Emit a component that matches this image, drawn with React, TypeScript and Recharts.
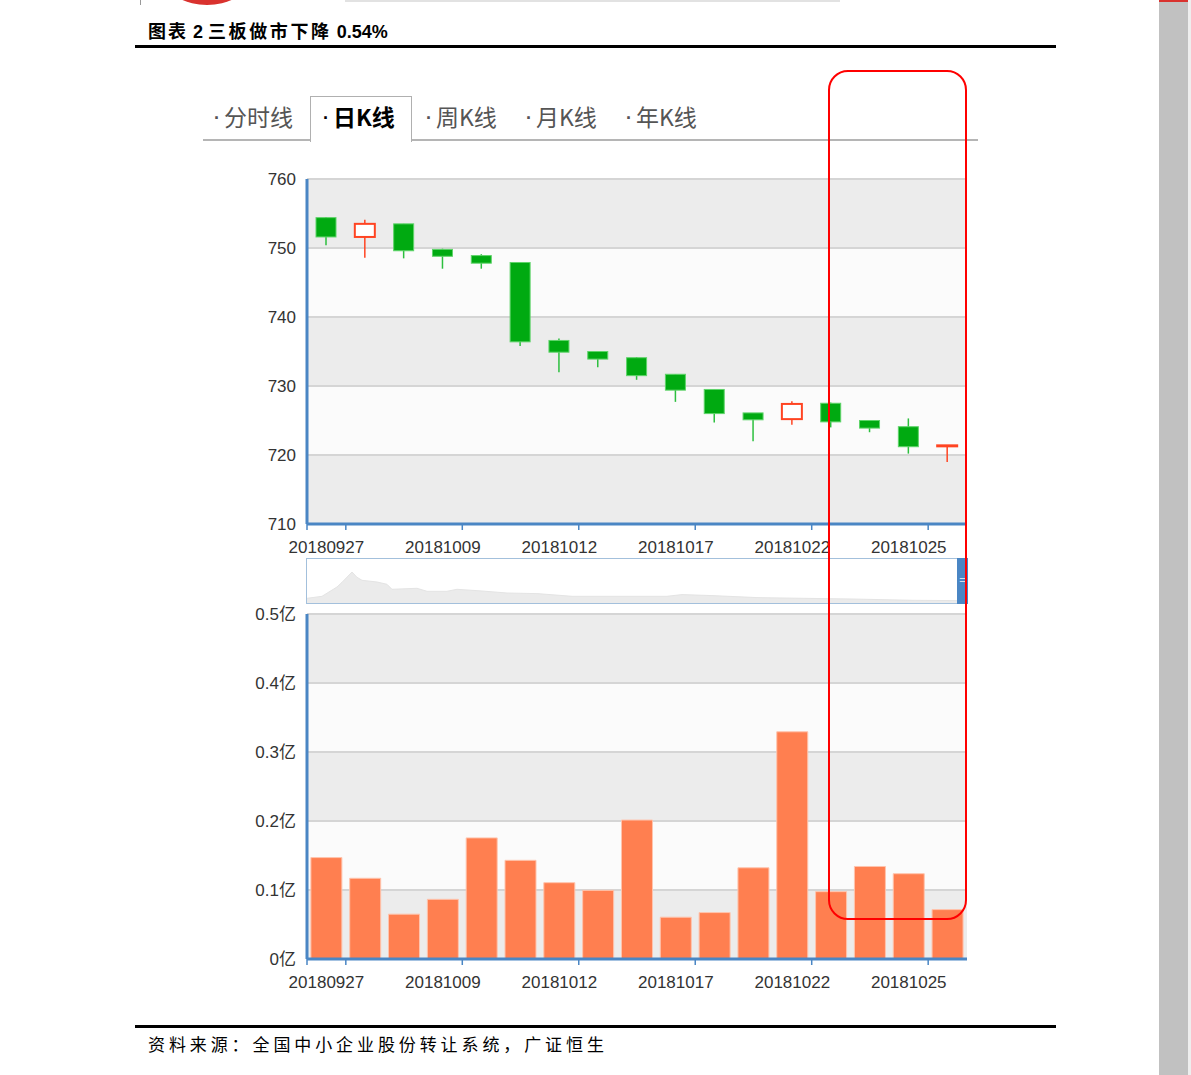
import React from 'react'
import {
  ComposedChart,
  BarChart,
  AreaChart,
  Bar,
  Area,
  XAxis,
  YAxis,
  CartesianGrid,
} from 'recharts'

const dates = [
  '20180927', '20180928', '20181008', '20181009', '20181010', '20181011', '20181012', '20181015', '20181016',
  '20181017', '20181018', '20181019', '20181022', '20181023', '20181024', '20181025', '20181026',
]
const opens = [754.4, 751.6, 753.5, 749.8, 748.9, 747.9, 736.6, 735.0, 734.1, 731.7, 729.5, 726.1, 725.2, 727.5, 725.0, 724.1, 721.3]
const closes = [751.6, 753.5, 749.6, 748.8, 747.8, 736.4, 734.9, 733.9, 731.5, 729.4, 726.0, 725.1, 727.4, 724.8, 723.9, 721.2, 721.4]
const highs = [754.5, 754.1, 753.5, 749.9, 749.1, 747.9, 736.9, 735.0, 734.2, 731.7, 729.5, 726.1, 727.8, 727.6, 725.0, 725.3, 721.4]
const lows = [750.4, 748.6, 748.5, 747.0, 747.0, 735.8, 732.0, 732.7, 730.9, 727.7, 724.7, 722.0, 724.4, 724.0, 723.3, 720.2, 719.0]
// 成交额（亿）
const volumes = [0.147, 0.117, 0.065, 0.0865, 0.1755, 0.143, 0.1106, 0.0995, 0.2014, 0.0606, 0.0673, 0.1322, 0.3293, 0.0976, 0.1341, 0.1236, 0.0716]

const priceTicks = [710, 720, 730, 740, 750, 760]
const volumeTicks = [0, 0.1, 0.2, 0.3, 0.4, 0.5]

// 缩略轴预览
const previewDays = [0, 3, 6, 7, 9, 10, 11, 14, 16, 17, 22, 24, 28, 30, 35, 40, 46, 53, 63, 72, 75, 81, 90, 99, 109, 121, 130]
const previewValues = [4.7, 6.7, 16, 20.7, 31, 25.7, 22.7, 21, 18.7, 13.7, 14.7, 11.7, 11.7, 13.7, 12, 10, 9.4, 6.7, 6.7, 6.7, 8.4, 7.4, 5.4, 4.7, 4, 2.7, 2.4]

const tabs = ['分时线', '日K线', '周K线', '月K线', '年K线']

const klineData = dates.map((d, i) => ({
  date: d,
  open: opens[i],
  close: closes[i],
  high: highs[i],
  low: lows[i],
  vol: volumes[i],
}))
const previewData = previewDays.map((t, i) => ({ t, v: previewValues[i] }))

const AXIS = '#4a86c4'
const GREEN = '#00aa11'
const RED = '#ff4422'
const FONT = '"Liberation Sans", Arial, "Noto Sans CJK SC", sans-serif'
const PLOT_W = 660
const BAND = PLOT_W / dates.length

const Candle = (props: any) => {
  const { x, y, width, height, payload } = props
  const top = Math.min(y, y + height)
  const h = Math.abs(height)
  const ppu = h / (payload.high - payload.low)
  const up = payload.close >= payload.open
  const bTop = top + (payload.high - Math.max(payload.open, payload.close)) * ppu
  const bBot = top + (payload.high - Math.min(payload.open, payload.close)) * ppu
  const cx = x + width / 2
  return (
    <g>
      <line x1={cx} x2={cx} y1={top} y2={top + h} stroke={up ? RED : '#2cbf3e'} strokeWidth={1.5} />
      <rect
        x={x}
        y={bTop}
        width={width}
        height={Math.max(bBot - bTop, 1)}
        fill={up ? '#fff' : GREEN}
        stroke={up ? RED : '#5fd46a'}
        strokeWidth={up ? 2 : 1}
      />
    </g>
  )
}

const DateTick = (props: any) => {
  const { x, y, payload } = props
  const half = BAND / 2
  return (
    <g>
      <line x1={x + half} x2={x + half} y1={y - 8} y2={y - 2} stroke={AXIS} strokeWidth={1.5} />
      {payload.index === 0 && (
        <line x1={x - half} x2={x - half} y1={y - 8} y2={y - 2} stroke={AXIS} strokeWidth={1.5} />
      )}
      <text x={x} y={y + 15} textAnchor="middle" dominantBaseline="central" fontSize={17} fill="#333" fontFamily={FONT}>
        {payload.value}
      </text>
    </g>
  )
}

const yTick = { fontSize: 17, fill: '#333', fontFamily: FONT }

export default function App() {
  return (
    <div style={{ position: 'absolute', left: 0, top: 0, width: 1191, height: 1075, background: '#fff', overflow: 'hidden', fontFamily: FONT }}>
      {/* 页眉残影 */}
      <div style={{ position: 'absolute', left: 168, top: -40, width: 78, height: 45, borderRadius: '50%', background: '#d9322e' }} />
      <div style={{ position: 'absolute', left: 140, top: 0, width: 1, height: 5, background: '#999' }} />
      <div style={{ position: 'absolute', left: 345, top: 0, width: 495, height: 2, background: '#e2e2e2' }} />

      {/* 标题 */}
      <div style={{ position: 'absolute', left: 148, top: 17, fontSize: 18, fontWeight: 700, color: '#000', whiteSpace: 'nowrap', fontFamily: '"Noto Sans CJK SC", sans-serif' }}>
        <span style={{ letterSpacing: 2 }}>图表</span>
        <span style={{ fontFamily: '"Liberation Sans", sans-serif' }}> 2 </span>
        <span style={{ letterSpacing: 2.6 }}>三板做市下降</span>
        <span style={{ fontFamily: '"Liberation Sans", sans-serif' }}> 0.54%</span>
      </div>
      <div style={{ position: 'absolute', left: 135, top: 45, width: 921, height: 3, background: '#000' }} />

      {/* 标签页 */}
      <div style={{ position: 'absolute', left: 203, top: 139, width: 775, height: 2, background: '#b5b5b5' }} />
      <div style={{ position: 'absolute', left: 310, top: 96, width: 100, height: 45, border: '1.5px solid #b0b0b0', borderBottom: 'none', background: '#fff' }} />
      {tabs.map((t, i) => {
        const lefts = [214, 323, 426, 526, 626]
        const active = i === 1
        return (
          <div
            key={t}
            style={{
              position: 'absolute',
              left: lefts[i],
              top: 101,
              fontSize: 23,
              lineHeight: '30px',
              whiteSpace: 'nowrap',
              color: active ? '#000' : '#555',
              fontWeight: active ? 700 : 400,
              fontFamily: '"Noto Sans CJK SC", sans-serif',
            }}
          >
            <span style={{ fontSize: 18, marginRight: 4, position: 'relative', top: -2, fontFamily: '"Liberation Sans", sans-serif', fontWeight: 700 }}>·</span>
            {t}
          </div>
        )
      })}

      {/* K线 */}
      <div style={{ position: 'absolute', left: 230, top: 160 }}>
        <ComposedChart width={750} height={420} data={klineData} margin={{ top: 19, right: 13, bottom: 16, left: 17 }} barCategoryGap="10%">
          <CartesianGrid vertical={false} stroke="#d5d5d5" strokeWidth={2} horizontalFill={['#ececec', '#fbfbfb']} fillOpacity={1} />
          <XAxis
            dataKey="date"
            interval={2}
            tickLine={false}
            tick={<DateTick />}
            height={40}
            axisLine={{ stroke: AXIS, strokeWidth: 3 }}
          />
          <YAxis
            domain={[710, 760]}
            ticks={priceTicks}
            width={60}
            tickLine={false}
            tickSize={6}
            tickMargin={5}
            tick={yTick}
            axisLine={{ stroke: AXIS, strokeWidth: 3 }}
            allowDataOverflow
          />
          <Bar dataKey={(d: any) => [d.low, d.high]} barSize={20} shape={<Candle />} isAnimationActive={false} />
        </ComposedChart>
      </div>

      {/* 缩略轴 */}
      <div style={{ position: 'absolute', left: 306, top: 558, width: 659, height: 44, border: '1.5px solid #a3c0dc', background: '#fff' }}>
        <AreaChart width={650} height={44} data={previewData} margin={{ top: 0, right: 0, bottom: 0, left: 0 }}>
          <XAxis dataKey="t" type="number" domain={[0, 130]} hide />
          <YAxis domain={[0, 44]} hide />
          <Area dataKey="v" type="linear" stroke="#e4e4e4" fill="#ebebeb" fillOpacity={1} isAnimationActive={false} />
        </AreaChart>
        <div style={{ position: 'absolute', right: -2, top: -1.5, width: 11, height: 46, background: AXIS, color: '#cfe0f0', fontSize: 11, lineHeight: '44px', textAlign: 'center' }}>=</div>
      </div>

      {/* 成交额 */}
      <div style={{ position: 'absolute', left: 230, top: 600 }}>
        <BarChart width={750} height={420} data={klineData} margin={{ top: 14, right: 13, bottom: 21, left: 17 }} barCategoryGap="10%">
          <CartesianGrid vertical={false} stroke="#d5d5d5" strokeWidth={2} horizontalFill={['#ececec', '#fbfbfb']} fillOpacity={1} />
          <XAxis
            dataKey="date"
            interval={2}
            tickLine={false}
            tick={<DateTick />}
            height={40}
            axisLine={{ stroke: AXIS, strokeWidth: 3 }}
          />
          <YAxis
            domain={[0, 0.5]}
            ticks={volumeTicks}
            width={60}
            tickLine={false}
            tickSize={6}
            tickMargin={5}
            tick={yTick}
            tickFormatter={(v: number) => `${v}亿`}
            axisLine={{ stroke: AXIS, strokeWidth: 3 }}
          />
          <Bar dataKey="vol" fill="#ff7f50" stroke="#ffc4ad" strokeWidth={1} isAnimationActive={false} />
        </BarChart>
      </div>

      {/* 标注框 */}
      <div style={{ position: 'absolute', left: 828, top: 70, width: 139, height: 850, border: '2px solid #ff0000', borderRadius: 20, boxSizing: 'border-box' }} />

      {/* 资料来源 */}
      <div style={{ position: 'absolute', left: 135, top: 1025, width: 921, height: 3, background: '#000' }} />
      <div style={{ position: 'absolute', left: 148, top: 1031, fontSize: 17, letterSpacing: 3.9, color: '#000', whiteSpace: 'nowrap', fontFamily: '"Noto Sans CJK SC", sans-serif' }}>
        资料来源：全国中小企业股份转让系统，广证恒生
      </div>

      {/* 滚动条 */}
      <div style={{ position: 'absolute', left: 1159, top: 0, width: 29, height: 1075, background: '#c1c1c1' }} />
      <div style={{ position: 'absolute', left: 1159, top: 0, width: 29, height: 2, background: '#d9322e' }} />
      <div style={{ position: 'absolute', left: 1188, top: 0, width: 3, height: 1075, background: '#eeeeee' }} />
    </div>
  )
}
